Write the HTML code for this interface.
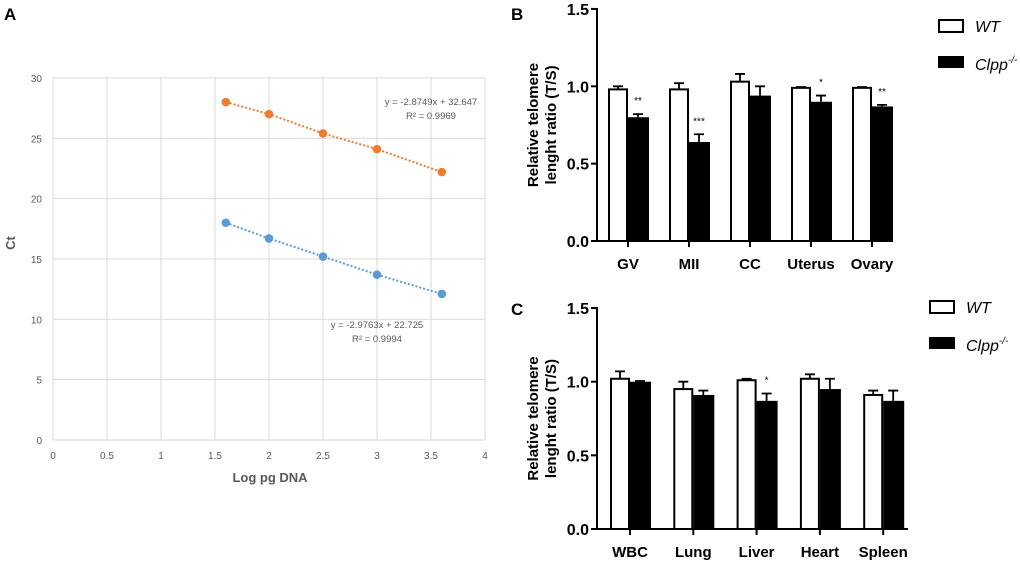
<!DOCTYPE html>
<html><head><meta charset="utf-8"><style>
html,body{margin:0;padding:0;background:#fff;}
svg{display:block;font-family:"Liberation Sans",Arial,sans-serif;}
</style></head><body>
<svg id="s" width="1020" height="564" viewBox="0 0 1020 564" xmlns="http://www.w3.org/2000/svg">
<text x="4" y="20" font-size="17" font-weight="bold">A</text>
<text x="511" y="20" font-size="17" font-weight="bold">B</text>
<text x="511" y="315" font-size="17" font-weight="bold">C</text>
<g id="ga"></g>
<g id="gb"></g>
<g id="gc"></g>
</svg>
<script>
// Panel A data
const aX = [1.6, 2, 2.5, 3, 3.6];
const aOrange = [28.0, 27.0, 25.4, 24.1, 22.2];
const aBlue = [18.0, 16.7, 15.2, 13.7, 12.1];
const aXTicks = [0, 0.5, 1, 1.5, 2, 2.5, 3, 3.5, 4];
const aYTicks = [0, 5, 10, 15, 20, 25, 30];

const NS = "http://www.w3.org/2000/svg";
function mk(parent, tag, attrs, text) {
  const e = document.createElementNS(NS, tag);
  for (const k in attrs) e.setAttribute(k, attrs[k]);
  if (text !== undefined) e.textContent = text;
  parent.appendChild(e);
  return e;
}
(function(){
  const g = document.getElementById('ga');
  const sx = v => 53 + v * 108;
  const sy = v => 440 - v * 12.07;
  aXTicks.forEach(t => {
    const l = mk(g, 'line', {x1: sx(t), x2: sx(t), y1: sy(30), y2: sy(0), stroke: '#d9d9d9', 'stroke-width': 1});
    
    
    const tx = mk(g, 'text', {x: sx(t), y: 459, 'font-size': 10, fill: '#595959', 'text-anchor': 'middle'}, String(t));
    
    
  });
  aYTicks.forEach(t => {
    const l = mk(g, 'line', {x1: sx(0), x2: sx(4), y1: sy(t), y2: sy(t), stroke: '#d9d9d9', 'stroke-width': 1});
    
    
    const tx = mk(g, 'text', {x: 42, y: sy(t) + 4, 'font-size': 10, fill: '#595959', 'text-anchor': 'end'}, String(t));
    
    
  });
  const xt = mk(g, 'text', {x: 270, y: 482, 'font-size': 13, 'font-weight': 'bold', fill: '#595959', 'text-anchor': 'middle'}, 'Log pg DNA');
  
  
  const yt = mk(g, 'text', {x: 0, y: 0, 'font-size': 13, 'font-weight': 'bold', fill: '#595959', 'text-anchor': 'middle', transform: 'translate(15,243) rotate(-90)'}, 'Ct');
  
  
  [[aOrange, '#ed7d31', 'orange'], [aBlue, '#5b9bd5', 'blue']].forEach(([ys, c, nm]) => {
    const pts = aX.map((x, i) => sx(x) + ',' + sy(ys[i])).join(' ');
    const pl = mk(g, 'polyline', {points: pts, fill: 'none', stroke: c, 'stroke-width': 2, 'stroke-dasharray': '2,2'});
    
    
    aX.forEach((x, i) => {
      const p = mk(g, 'circle', {cx: sx(x), cy: sy(ys[i]), r: 4.3, fill: c});
      
      
    });
  });
  const e1 = mk(g, 'text', {x: 431, y: 105, 'font-size': 9.5, fill: '#595959', 'text-anchor': 'middle'}, 'y = -2.8749x + 32.647');
  
  
  const r1 = mk(g, 'text', {x: 431, y: 119, 'font-size': 9.5, fill: '#595959', 'text-anchor': 'middle'}, 'R² = 0.9969');
  
  
  const e2 = mk(g, 'text', {x: 377, y: 328, 'font-size': 9.5, fill: '#595959', 'text-anchor': 'middle'}, 'y = -2.9763x + 22.725');
  
  
  const r2 = mk(g, 'text', {x: 377, y: 342, 'font-size': 9.5, fill: '#595959', 'text-anchor': 'middle'}, 'R² = 0.9994');
  
  
})();
</script>
<script>
// Panel B data
const bCats = ['GV', 'MII', 'CC', 'Uterus', 'Ovary'];
const bWT = [0.98, 0.98, 1.03, 0.99, 0.99];
const bWTErr = [0.02, 0.04, 0.05, 0.005, 0.005];
const bKO = [0.80, 0.64, 0.94, 0.90, 0.87];
const bKOErr = [0.02, 0.05, 0.06, 0.04, 0.01];
const bStars = ['**', '***', '', '*', '**'];
// Panel C data
const cCats = ['WBC', 'Lung', 'Liver', 'Heart', 'Spleen'];
const cWT = [1.02, 0.95, 1.01, 1.02, 0.91];
const cWTErr = [0.05, 0.05, 0.01, 0.03, 0.03];
const cKO = [1.00, 0.91, 0.87, 0.95, 0.87];
const cKOErr = [0.005, 0.03, 0.05, 0.07, 0.07];
const cStars = ['', '', '*', '', ''];
const barYTicks = ['0.0', '0.5', '1.0', '1.5'];

function barChart(id, cfg, cats, wt, wtE, ko, koE, stars) {
  const g = document.getElementById(id);
  const ax = 597, y0 = cfg.y0, ppu = cfg.ppu;
  const sy = v => y0 - v * ppu;
  const cx = i => cfg.c0 + i * cfg.step;
  const bw = 20;
  const ya = mk(g, 'line', {x1: ax, x2: ax, y1: sy(1.5) - 1, y2: y0 + 1, stroke: '#000', 'stroke-width': 2});
  
  
  const xa = mk(g, 'line', {x1: ax - 1, x2: cfg.xEnd, y1: y0, y2: y0, stroke: '#000', 'stroke-width': 2});
  
  
  barYTicks.forEach(t => {
    const v = parseFloat(t);
    const tk = mk(g, 'line', {x1: ax - 6, x2: ax, y1: sy(v), y2: sy(v), stroke: '#000', 'stroke-width': 2});
    
    
    const tl = mk(g, 'text', {x: ax - 8, y: sy(v) + 6, 'font-size': 16, 'font-weight': 'bold', 'text-anchor': 'end'}, t);
    
    
  });
  const yt = mk(g, 'text', {'font-size': 15, 'font-weight': 'bold', 'text-anchor': 'middle', transform: 'translate(' + cfg.tx + ',' + ((sy(1.5) + y0) / 2) + ') rotate(-90)'});
  
  
  mk(yt, 'tspan', {x: 0, y: 0}, 'Relative telomere');
  mk(yt, 'tspan', {x: 0, y: 18}, 'lenght ratio (T/S)');
  cats.forEach((c, i) => {
    const x = cx(i);
    const tk = mk(g, 'line', {x1: x, x2: x, y1: y0, y2: y0 + 6, stroke: '#000', 'stroke-width': 2});
    
    
    const tl = mk(g, 'text', {x: x, y: y0 + 28, 'font-size': 15, 'font-weight': 'bold', 'text-anchor': 'middle'}, c);
    
    
    const wx = x - bw;
    const we = mk(g, 'path', {d: 'M' + (wx + bw / 2) + ' ' + sy(wt[i]) + 'V' + sy(wt[i] + wtE[i]) + 'M' + (wx + bw / 2 - 5) + ' ' + sy(wt[i] + wtE[i]) + 'h10', stroke: '#000', 'stroke-width': 1.8, fill: 'none'});
    
    
    const wb = mk(g, 'rect', {x: wx + 1, y: sy(wt[i]), width: bw - 2, height: y0 - sy(wt[i]), fill: '#fff', stroke: '#000', 'stroke-width': 2});
    
    
    const ke = mk(g, 'path', {d: 'M' + (x + bw / 2) + ' ' + sy(ko[i]) + 'V' + sy(ko[i] + koE[i]) + 'M' + (x + bw / 2 - 5) + ' ' + sy(ko[i] + koE[i]) + 'h10', stroke: '#000', 'stroke-width': 1.8, fill: 'none'});
    
    
    const kb = mk(g, 'rect', {x: x, y: sy(ko[i]), width: bw + 1, height: y0 - sy(ko[i]), fill: '#000'});
    
    
    if (stars[i]) {
      const st = mk(g, 'text', {x: x + bw / 2, y: sy(ko[i] + koE[i]) - 10, 'font-size': 10, 'text-anchor': 'middle'}, stars[i]);
      
      
    }
  });
  const lw = mk(g, 'rect', {x: cfg.lx, y: cfg.ly, width: 24, height: 12, fill: '#fff', stroke: '#000', 'stroke-width': 2});
  
  
  const lwt = mk(g, 'text', {x: cfg.lx + 36, y: cfg.ly + 12, 'font-size': 16, 'font-style': 'italic'}, 'WT');
  
  
  const lk = mk(g, 'rect', {x: cfg.lx - 1, y: cfg.ly + 36, width: 26, height: 12, fill: '#000'});
  
  
  const lkt = mk(g, 'text', {x: cfg.lx + 36, y: cfg.ly + 50, 'font-size': 16, 'font-style': 'italic'});
  
  
  mk(lkt, 'tspan', {}, 'Clpp');
  mk(lkt, 'tspan', {dy: -7, 'font-size': 10}, '-/-');
}
barChart('gb', {y0: 241, ppu: 154.7, c0: 628, step: 61, xEnd: 893, tx: 538, lx: 939, ly: 20}, bCats, bWT, bWTErr, bKO, bKOErr, bStars);
barChart('gc', {y0: 529, ppu: 147.3, c0: 630, step: 63.3, xEnd: 908, tx: 538, lx: 930, ly: 301}, cCats, cWT, cWTErr, cKO, cKOErr, cStars);
</script>
</body></html>
